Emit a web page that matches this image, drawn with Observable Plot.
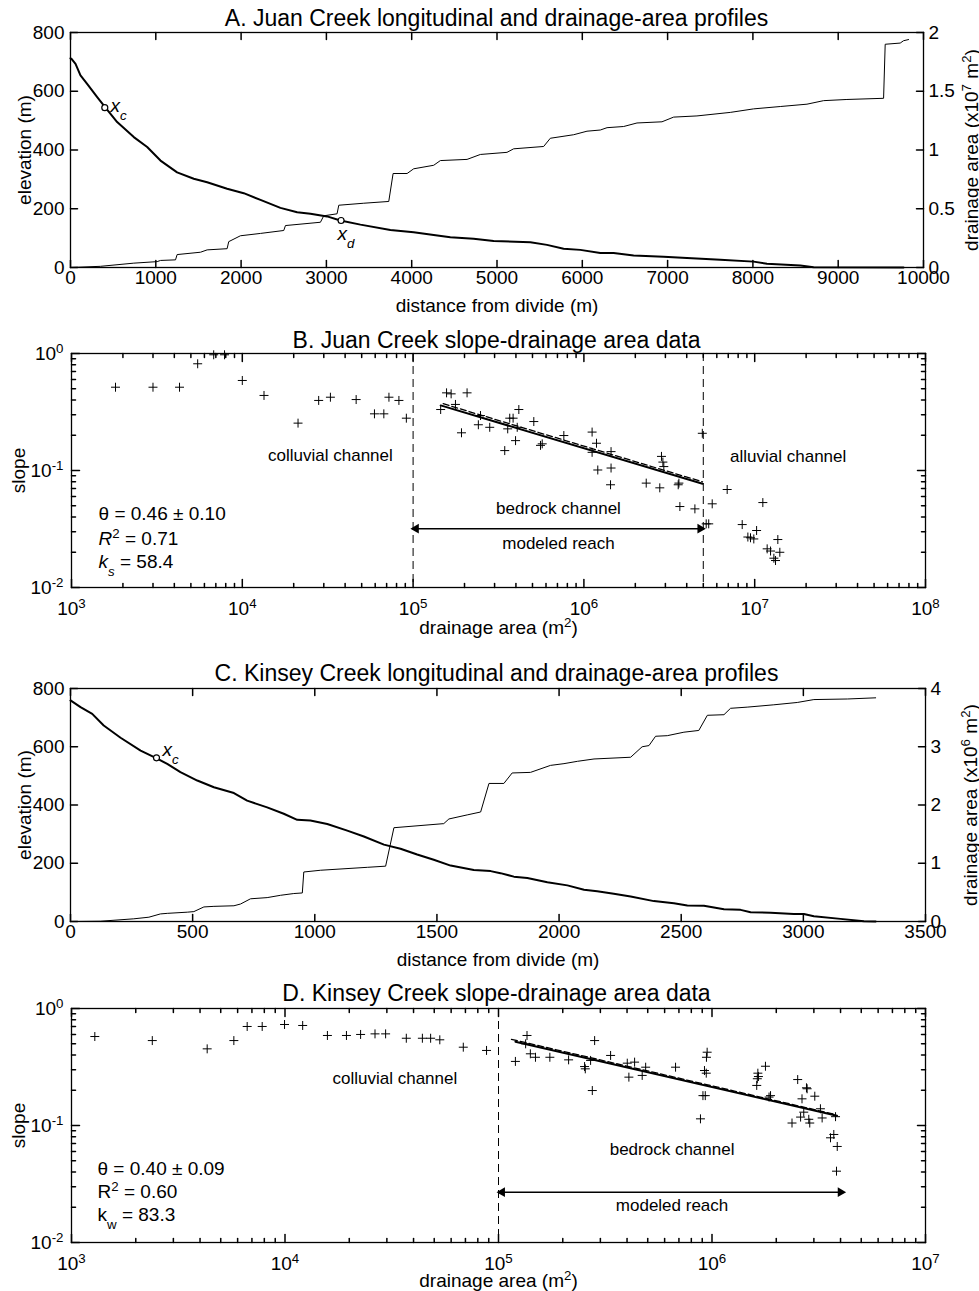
<!DOCTYPE html>
<html><head><meta charset="utf-8">
<script src="https://cdn.jsdelivr.net/npm/d3@7"></script>
<script src="https://cdn.jsdelivr.net/npm/@observablehq/plot@0.6"></script>
<style>
body{margin:0;background:#fff;}
#wrap{position:relative;width:979px;height:1291px;font-family:"Liberation Sans",Arial,Helvetica,sans-serif;color:#000;}
.title{position:absolute;left:70px;width:853px;text-align:center;font-size:23px;line-height:22px;white-space:nowrap;}
</style></head><body><div id="wrap"></div>
<script>
// ---------- DATA ----------
// Panel A: Juan Creek profile  [distance from divide (m), elevation (m)]
const juanElevation = [[0,712],[12,710],[59,693],[117,654],[195,625],[313,580],[410,544],[547,495],[742,444],[899,410],[1055,364],[1250,324],[1445,302],[1602,290],[1836,268],[2031,253],[2227,230],[2461,203],[2657,188],[2813,183],[3008,174],[3164,160],[3399,146],[3750,128],[4023,120],[4258,111],[4453,103],[4726,98],[4961,90],[5391,86],[5586,77],[5781,64],[5977,60],[6211,49],[6367,49],[6602,41],[6953,37],[7227,32],[7618,26],[8008,20],[8165,13],[8556,7],[8712,1],[9766,0]];
// [distance (m), drainage area (x10^7 m^2)]
const juanArea = [[0,0],[352,0.01],[742,0.037],[1016,0.05],[1055,0.06],[1231,0.065],[1250,0.11],[1524,0.13],[1602,0.15],[1836,0.16],[1855,0.22],[1992,0.27],[2227,0.29],[2500,0.315],[2520,0.357],[2930,0.385],[2969,0.44],[3125,0.457],[3145,0.53],[3438,0.547],[3731,0.562],[3782,0.80],[3946,0.80],[4023,0.84],[4258,0.87],[4336,0.91],[4649,0.92],[4805,0.962],[5117,0.98],[5195,1.01],[5547,1.03],[5625,1.10],[5899,1.13],[6055,1.16],[6211,1.17],[6290,1.19],[6485,1.20],[6641,1.23],[6934,1.24],[7071,1.28],[7344,1.29],[7735,1.32],[8008,1.35],[8321,1.37],[8634,1.39],[8829,1.42],[9102,1.43],[9532,1.44],[9551,1.90],[9727,1.91],[9766,1.93],[9825,1.94]];
const juanMarkers = [{x:402,y:544,label:"*x*_{*c*}",lx:469,ly:551},{x:3172,y:160,label:"*x*_{*d*}",lx:3130,ly:116}];

// Panel B: Juan Creek slope–area  [drainage area (m^2), slope]
const juanSlope = [[1810,0.515],[3000,0.515],[4290,0.515],[5480,0.817],[6800,0.975],[7870,0.975],[10000,0.588],[13400,0.438],[21200,0.254],[28000,0.397],[32800,0.423],[46400,0.404],[59400,0.305],[67400,0.305],[72200,0.423],[82600,0.397],[91300,0.280],
[145000,0.332],[157000,0.461],[167000,0.452],[177000,0.367],[192000,0.210],[207000,0.461],[241000,0.246],[248000,0.295],[281000,0.234],[344000,0.148],[358000,0.227],[368000,0.280],[385000,0.280],[398000,0.180],[407000,0.234],[416000,0.332],[509000,0.262],[557000,0.164],[570000,0.169],[763000,0.199],[1117000,0.213],[1185000,0.171],[1117000,0.143],[1442000,0.145],[1206000,0.101],[1442000,0.105],[1432000,0.0755],[2317000,0.078],[2782000,0.0711],[2846000,0.132],[2937000,0.108],[2900000,0.118],[3566000,0.0755],[3600000,0.078],[3647000,0.0492],[4466000,0.047],[4935000,0.208],[5640000,0.0519],[5380000,0.035],[5200000,0.035],[6900000,0.0688],[11160000,0.0532],[8450000,0.0345],[10260000,0.0307],[9450000,0.0266],[9880000,0.026],[9120000,0.027],[13660000,0.0257],[11830000,0.0214],[12380000,0.0205],[14030000,0.020],[12950000,0.0178],[13240000,0.017]];
const juanFit = [[145000,0.36],[4950000,0.077]];
const juanFitDashed = [[150000,0.372],[4950000,0.080]];
const juanBounds = [1e5, 5e6];
const juanReach = {y:0.0318, x1:1.04e5, x2:4.8e6};
const juanLabels = [{x:32800,y:0.134,t:"colluvial channel"},{x:7.1e5,y:0.047,t:"bedrock channel"},{x:7.1e5,y:0.0237,t:"modeled reach"},{x:1.57e7,y:0.132,t:"alluvial channel"}];
const juanStats = [{x:1440,y:0.0429,t:"θ = 0.46 ± 0.10"},{x:1440,y:0.0262,t:"*R*^{2} = 0.71"},{x:1440,y:0.0167,t:"*k*_{*s*} = 58.4"}];

// Panel C: Kinsey Creek profile [distance (m), elevation (m)]
const kinseyElevation = [[0,759],[41,736],[89,713],[136,673],[205,631],[287,587],[355,559],[396,541],[450,513],[519,484],[587,461],[669,441],[723,415],[805,392],[873,370],[928,349],[982,347],[1051,335],[1133,312],[1201,292],[1283,264],[1351,250],[1419,230],[1487,212],[1556,192],[1651,177],[1720,173],[1760,166],[1815,154],[1870,149],[1952,135],[2034,124],[2102,109],[2156,104],[2224,95],[2293,86],[2388,70],[2470,63],[2525,55],[2593,54],[2675,42],[2743,40],[2784,32],[2866,30],[2961,26],[3002,26],[3043,18],[3152,9],[3248,1],[3296,0]];
// [distance (m), drainage area (x10^6 m^2)]
const kinseyArea = [[0,0],[123,0.005],[259,0.046],[321,0.074],[368,0.13],[396,0.14],[478,0.16],[505,0.17],[546,0.25],[587,0.26],[669,0.27],[696,0.30],[737,0.39],[805,0.41],[860,0.45],[914,0.48],[949,0.49],[955,0.85],[1024,0.88],[1215,0.93],[1290,0.95],[1324,1.61],[1528,1.68],[1549,1.76],[1624,1.83],[1679,1.88],[1713,2.37],[1774,2.37],[1808,2.55],[1883,2.56],[1965,2.68],[2020,2.71],[2075,2.75],[2143,2.79],[2293,2.82],[2340,3.00],[2368,3.02],[2395,3.18],[2443,3.19],[2511,3.25],[2572,3.28],[2607,3.54],[2675,3.55],[2702,3.66],[2770,3.68],[2879,3.72],[2975,3.76],[3043,3.81],[3180,3.82],[3296,3.84]];
const kinseyMarkers = [{x:352,y:562,label:"*x*_{*c*}",lx:377,ly:590}];

// Panel D: Kinsey Creek slope–area [drainage area (m^2), slope]
const kinseySlope = [[1286,0.576],[2390,0.532],[4320,0.452],[5760,0.532],[6650,0.702],[7820,0.702],[9950,0.730],[12100,0.716],[15800,0.588],[19400,0.588],[22600,0.600],[26400,0.607],[29600,0.607],[37000,0.557],[44000,0.557],[48100,0.557],[53100,0.540],[68400,0.467],[87900,0.438],
[120000,0.353],[136000,0.588],[134000,0.499],[141000,0.410],[149000,0.383],[174000,0.383],[213000,0.364],[253000,0.319],[255000,0.305],[282000,0.532],[275000,0.199],[270000,0.360],[335000,0.397],[401000,0.341],[408000,0.259],[434000,0.348],[489000,0.315],[471000,0.268],[675000,0.315],[949000,0.423],[942000,0.383],[922000,0.295],[940000,0.280],[907000,0.180],[930000,0.180],[883000,0.114],
[1780000,0.321],[1640000,0.280],[1630000,0.251],[1620000,0.220],[1650000,0.262],[1880000,0.180],[1850000,0.175],[2520000,0.247],[2790000,0.206],[2770000,0.210],[3030000,0.178],[2640000,0.169],[3220000,0.139],[3280000,0.116],[3790000,0.119],[2370000,0.105],[2600000,0.118],[2690000,0.130],[2870000,0.105],[2840000,0.113],[3590000,0.0785],[3720000,0.0838],[3860000,0.0662],[3830000,0.0407]];
const kinseyFit = [[120000,0.52],[3850000,0.121]];
const kinseyFitDashed = [[115000,0.545],[3800000,0.124]];
const kinseyBounds = [1e5];
const kinseyReach = {y:0.0269, x1:1.04e5, x2:4.0e6};
const kinseyLabels = [{x:32700,y:0.251,t:"colluvial channel"},{x:6.5e5,y:0.0625,t:"bedrock channel"},{x:6.5e5,y:0.0207,t:"modeled reach"}];
const kinseyStats = [{x:1324,y:0.0429,t:"θ = 0.40 ± 0.09"},{x:1324,y:0.0270,t:"R^{2} = 0.60"},{x:1324,y:0.0173,t:"k_{w} = 83.3"}];

// Tick values
const elevTicks = [0,200,400,600,800];
const juanDistTicks = [0,1000,2000,3000,4000,5000,6000,7000,8000,9000,10000];
const juanAreaTicks = [0,0.5,1,1.5,2];
const kinseyDistTicks = [0,500,1000,1500,2000,2500,3000,3500];
const kinseyAreaTicks = [0,1,2,3,4];
const slopeTicks = [1e-2,1e-1,1];
const juanAreaLogTicks = [1e3,1e4,1e5,1e6,1e7,1e8];
const kinseyAreaLogTicks = [1e3,1e4,1e5,1e6,1e7];

// ---------- RENDER ----------
const FONT = "'Liberation Sans', Arial, Helvetica, sans-serif";
const W = 979;
const wrap = document.getElementById("wrap");
const NS = "http://www.w3.org/2000/svg";

function addSpan(parent, text, opts) {
  const sp = document.createElementNS(NS, "tspan");
  if (opts.italic) sp.setAttribute("font-style", "italic");
  sp.textContent = text;
  parent.appendChild(sp);
}
function addShifted(parent, content, shift) {
  const sp = document.createElementNS(NS, "tspan");
  sp.setAttribute("baseline-shift", shift);
  sp.setAttribute("font-size", "70%");
  parent.appendChild(sp);
  appendRich(sp, content);
}
function appendRich(parent, s) {
  const re = /\^\{([^}]*)\}|_\{([^}]*)\}|\*([^*]*)\*/g;
  let last = 0, m;
  while ((m = re.exec(s))) {
    if (m.index > last) addSpan(parent, s.slice(last, m.index), {});
    if (m[1] != null) addShifted(parent, m[1], "super");
    else if (m[2] != null) addShifted(parent, m[2], "sub");
    else addSpan(parent, m[3], {italic: true});
    last = re.lastIndex;
  }
  if (last < s.length) addSpan(parent, s.slice(last), {});
}
function rich(svg) {
  svg.querySelectorAll("text").forEach(t => {
    const targets = t.querySelector("tspan") ? [...t.querySelectorAll("tspan")] : [t];
    for (const n of targets) {
      const s = n.textContent;
      if (!/[\^_*]/.test(s)) continue;
      n.textContent = "";
      appendRich(n, s);
    }
  });
  return svg;
}
function place(el, top) {
  el.style.position = "absolute";
  el.style.left = "0px";
  el.style.top = top + "px";
  wrap.appendChild(el);
}
function title(text, top) {
  const d = document.createElement("div");
  d.className = "title";
  d.textContent = text;
  d.style.top = top + "px";
  wrap.appendChild(d);
}
const baseStyle = {fontFamily: FONT, fontSize: "19px", background: "transparent", color: "black", overflow: "visible"};
const numFmt = d => String(d);

// inward tick marks: short line vectors anchored on the frame edges, pointing inside
const tickShape = {draw(context, l) { context.moveTo(0, 0); context.lineTo(0, -l); }};
function ticks(vals, side, len) {
  const horiz = side === "bottom" || side === "top";
  const rotate = {bottom: 0, top: 180, left: 90, right: -90}[side];
  return Plot.vector(vals, {
    ...(horiz ? {x: d => d} : {y: d => d}),
    frameAnchor: side, length: len, rotate, anchor: "start", shape: tickShape,
    stroke: "black", strokeWidth: 1.5
  });
}

function profilePanel(c) {
  const common = {width: W, height: c.height, marginTop: 10, marginBottom: c.height - 10 - c.frameH,
    marginLeft: c.ml, marginRight: c.mr, style: baseStyle};
  const areaPlot = Plot.plot({
    ...common,
    x: {domain: c.xDomain, axis: null},
    y: {domain: c.areaDomain},
    marks: [
      ticks(c.areaTicks, "right", 7),
      Plot.axisY(c.areaTicks, {anchor: "right", tickSize: 0, tickPadding: 5, tickFormat: numFmt,
        label: c.areaLabel, labelAnchor: "center", labelOffset: c.areaLabelOffset, labelArrow: "none"}),
      Plot.line(c.area, {x: d => d[0], y: d => d[1], stroke: "black", strokeWidth: 1})
    ]
  });
  place(rich(areaPlot), c.top);
  const elevPlot = Plot.plot({
    ...common,
    x: {domain: c.xDomain},
    y: {domain: [0, 800]},
    marks: [
      Plot.frame({stroke: "black", strokeWidth: 1.3}),
      ticks(c.xTicks, "bottom", 7),
      ticks(c.xTicks, "top", 7),
      ticks(elevTicks, "left", 7),
      Plot.axisX(c.xTicks, {anchor: "bottom", tickSize: 0, tickPadding: 3, tickFormat: numFmt,
        label: "distance from divide (m)", labelAnchor: "center", labelOffset: 44, labelArrow: "none"}),
      Plot.axisY(elevTicks, {anchor: "left", tickSize: 0, tickPadding: 6, tickFormat: numFmt,
        label: "elevation (m)", labelAnchor: "center", labelOffset: 53, labelArrow: "none"}),
      Plot.line(c.elev, {x: d => d[0], y: d => d[1], stroke: "black", strokeWidth: 2}),
      Plot.dot(c.markers, {x: "x", y: "y", r: 3, stroke: "black", strokeWidth: 1.2, fill: "white"}),
      Plot.text(c.markers, {x: "lx", y: "ly", text: "label", textAnchor: "start", fontSize: 19})
    ]
  });
  place(rich(elevPlot), c.top);
}

function minorTicks(domain) {
  const out = [];
  for (let e = Math.round(Math.log10(domain[0])); e < Math.round(Math.log10(domain[1])); e++)
    for (let k = 2; k <= 9; k++) out.push(k * Math.pow(10, e));
  return out;
}
const powFmt = d => "10^{" + Math.round(Math.log10(d)) + "}";

function slopePanel(c) {
  const xMinor = minorTicks(c.xDomain), yMinor = minorTicks([1e-2, 1]);
  const tri = [{x: c.reach.x1, y: c.reach.y, rot: -90}, {x: c.reach.x2, y: c.reach.y, rot: 90}];
  const p = Plot.plot({
    width: W, height: c.height, marginTop: 10, marginBottom: c.height - 10 - c.frameH,
    marginLeft: c.ml, marginRight: c.mr, style: baseStyle,
    x: {type: "log", domain: c.xDomain},
    y: {type: "log", domain: [1e-2, 1]},
    marks: [
      Plot.frame({stroke: "black", strokeWidth: 1.3}),
      ticks(c.xTicks, "bottom", 8), ticks(xMinor, "bottom", 4),
      ticks(c.xTicks, "top", 8), ticks(xMinor, "top", 4),
      ticks(slopeTicks, "left", 8), ticks(yMinor, "left", 4),
      ticks(slopeTicks, "right", 8), ticks(yMinor, "right", 4),
      Plot.axisX(c.xTicks, {anchor: "bottom", tickSize: 0, tickPadding: 14, tickFormat: powFmt,
        label: "drainage area (m^{2})", labelAnchor: "center", labelOffset: c.xLabelOffset, labelArrow: "none"}),
      Plot.axisY(slopeTicks, {anchor: "left", tickSize: 0, tickPadding: 8, tickFormat: powFmt,
        label: "slope", labelAnchor: "center", labelOffset: 60, labelArrow: "none"}),
      Plot.ruleX(c.bounds, {stroke: "black", strokeWidth: 1, strokeDasharray: "8,5"}),
      Plot.line(c.fitDashed, {x: d => d[0], y: d => d[1], stroke: "black", strokeWidth: 1.3, strokeDasharray: "6,3"}),
      Plot.line(c.fit, {x: d => d[0], y: d => d[1], stroke: "black", strokeWidth: 2}),
      Plot.dot(c.points, {x: d => d[0], y: d => d[1], symbol: "plus", r: 3, stroke: "black", strokeWidth: 1}),
      Plot.ruleY([c.reach], {y: "y", x1: "x1", x2: "x2", stroke: "black", strokeWidth: 1.5}),
      Plot.dot(tri, {x: "x", y: "y", symbol: "triangle", r: 3.6, fill: "black", stroke: "none", rotate: "rot"}),
      Plot.text(c.labels, {x: "x", y: "y", text: "t", textAnchor: "middle", fontSize: 17}),
      Plot.text(c.stats, {x: "x", y: "y", text: "t", textAnchor: "start", fontSize: 19})
    ]
  });
  place(rich(p), c.top);
}

profilePanel({top: 22, height: 295, frameH: 235, ml: 70, mr: 56, xDomain: [0, 10000], xTicks: juanDistTicks,
  elev: juanElevation, area: juanArea, areaDomain: [0, 2], areaTicks: juanAreaTicks, areaLabelOffset: 54,
  areaLabel: "drainage area (x10^{7} m^{2})", markers: juanMarkers});
slopePanel({top: 343, height: 292, frameH: 234, ml: 71, mr: 54, xDomain: [1e3, 1e8], xTicks: juanAreaLogTicks,
  points: juanSlope, fit: juanFit, fitDashed: juanFitDashed, bounds: juanBounds, reach: juanReach,
  labels: juanLabels, stats: juanStats, xLabelOffset: 46});
profilePanel({top: 678, height: 293, frameH: 233, ml: 70, mr: 54, xDomain: [0, 3500], xTicks: kinseyDistTicks,
  elev: kinseyElevation, area: kinseyArea, areaDomain: [0, 4], areaTicks: kinseyAreaTicks, areaLabelOffset: 51,
  areaLabel: "drainage area (x10^{6} m^{2})", markers: kinseyMarkers});
slopePanel({top: 998, height: 292, frameH: 234, ml: 71, mr: 54, xDomain: [1e3, 1e7], xTicks: kinseyAreaLogTicks,
  points: kinseySlope, fit: kinseyFit, fitDashed: kinseyFitDashed, bounds: kinseyBounds, reach: kinseyReach,
  labels: kinseyLabels, stats: kinseyStats, xLabelOffset: 44});

title("A. Juan Creek longitudinal and drainage-area profiles", 7);
title("B. Juan Creek slope-drainage area data", 329);
title("C. Kinsey Creek longitudinal and drainage-area profiles", 662);
title("D. Kinsey Creek slope-drainage area data", 982);
</script></body></html>
